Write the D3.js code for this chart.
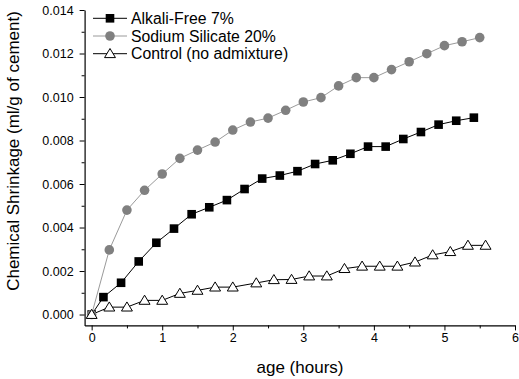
<!DOCTYPE html>
<html>
<head>
<meta charset="utf-8">
<script src="https://cdn.jsdelivr.net/npm/d3@7/dist/d3.min.js"></script>
<style>
  html, body { margin: 0; padding: 0; background: #fff; }
  svg { display: block; font-family: "Liberation Sans", Arial, Helvetica, sans-serif; }
</style>
</head>
<body>
<svg id="chart" width="519" height="379"></svg>
<script>
// Chemical shrinkage (ml/g of cement) against age in hours
const alkaliHours = [0, 0.167, 0.417, 0.667, 0.917, 1.167, 1.417, 1.667, 1.917, 2.167, 2.417, 2.667,
  2.917, 3.167, 3.417, 3.667, 3.917, 4.167, 4.417, 4.667, 4.917, 5.167, 5.417];
const alkaliFree = [0, 0.00080, 0.00146, 0.00244, 0.00330, 0.00395, 0.00461, 0.00493, 0.00526, 0.00577,
  0.00625, 0.00639, 0.00659, 0.00692, 0.00709, 0.00739, 0.00772, 0.00772, 0.00807, 0.00839, 0.00873,
  0.00891, 0.00905];

const silicateHours = [0, 0.25, 0.5, 0.75, 1, 1.25, 1.5, 1.75, 2, 2.25, 2.5, 2.75, 3, 3.25, 3.5, 3.75,
  4, 4.25, 4.5, 4.75, 5, 5.25, 5.5];
const sodiumSilicate = [0, 0.00297, 0.00480, 0.00571, 0.00646, 0.00718, 0.00756, 0.00793, 0.00848,
  0.00885, 0.00903, 0.00939, 0.00977, 0.00997, 0.01051, 0.01089, 0.01089, 0.01126, 0.01162, 0.01199,
  0.01236, 0.01254, 0.01273];

const controlHours = [0, 0.25, 0.5, 0.75, 1, 1.25, 1.5, 1.75, 2, 2.333, 2.583, 2.833, 3.083, 3.333,
  3.583, 3.833, 4.083, 4.333, 4.583, 4.833, 5.083, 5.333, 5.583];
const control = [0, 0.00034, 0.00034, 0.00065, 0.00065, 0.00097, 0.00111, 0.00126, 0.00126, 0.00145,
  0.00160, 0.00161, 0.00177, 0.00177, 0.00211, 0.00222, 0.00222, 0.00222, 0.00241, 0.00274, 0.00289,
  0.00318, 0.00318];

const seriesNames = ["Alkali-Free 7%", "Sodium Silicate 20%", "Control (no admixture)"];
const xTickValues = [0, 1, 2, 3, 4, 5, 6];
const yTickValues = [0, 0.002, 0.004, 0.006, 0.008, 0.010, 0.012, 0.014];
const xTitle = "age (hours)";
const yTitle = "Chemical Shrinkage (ml/g of cement)";

const svg = d3.select("#chart");
const plotLeft = 84.6, plotRight = 515, plotTop = 10, plotBottom = 325.4;

const x = d3.scaleLinear().domain([-0.1, 6]).range([plotLeft, plotRight]);
const y = d3.scaleLinear().domain([-0.0005, 0.014]).range([plotBottom, plotTop]);

const series = [
  { name: seriesNames[0], xs: alkaliHours, ys: alkaliFree, line: "#000", shape: "square" },
  { name: seriesNames[1], xs: silicateHours, ys: sodiumSilicate, line: "#9a9a9a", shape: "circle" },
  { name: seriesNames[2], xs: controlHours, ys: control, line: "#000", shape: "triangle" }
];

function drawMarker(g, shape, cx, cy) {
  if (shape === "square") {
    g.append("rect").attr("x", cx - 4.3).attr("y", cy - 4.3).attr("width", 8.6).attr("height", 8.6)
      .attr("fill", "#000");
  } else if (shape === "circle") {
    g.append("circle").attr("cx", cx).attr("cy", cy).attr("r", 4.8).attr("fill", "#808080");
  } else {
    const s = 5.2;
    g.append("path")
      .attr("d", `M${cx},${cy - s}L${cx + s * 1.05},${cy + s * 0.75}L${cx - s * 1.05},${cy + s * 0.75}Z`)
      .attr("fill", "#fff").attr("stroke", "#000").attr("stroke-width", 1);
  }
}

// axes with major and minor ticks
const axisStyle = sel => {
  sel.selectAll("path").attr("stroke", "#000").attr("stroke-width", 1.2);
  sel.selectAll("line").attr("stroke", "#000").attr("stroke-width", 1);
  sel.selectAll("text").attr("fill", "#000").attr("font-size", 12.5);
};

const xMinor = svg.append("g").attr("transform", `translate(0,${plotBottom})`)
  .call(d3.axisBottom(x).tickValues([0.5, 1.5, 2.5, 3.5, 4.5, 5.5]).tickSize(3).tickFormat(""));
xMinor.select("path").remove();
xMinor.call(axisStyle);

const xAxis = svg.append("g").attr("transform", `translate(0,${plotBottom})`)
  .call(d3.axisBottom(x).tickValues(xTickValues).tickSize(5).tickSizeOuter(0).tickPadding(3)
    .tickFormat(d3.format("d")));
xAxis.call(axisStyle);

const yMinor = svg.append("g").attr("transform", `translate(${plotLeft},0)`)
  .call(d3.axisLeft(y).tickValues([0.001, 0.003, 0.005, 0.007, 0.009, 0.011, 0.013]).tickSize(3).tickFormat(""));
yMinor.select("path").remove();
yMinor.call(axisStyle);

const yAxis = svg.append("g").attr("transform", `translate(${plotLeft},0)`)
  .call(d3.axisLeft(y).tickValues(yTickValues).tickSize(5).tickSizeOuter(0).tickPadding(6)
    .tickFormat(d3.format(".3f")));
yAxis.call(axisStyle);

// axis titles
svg.append("text").attr("x", 300).attr("y", 373).attr("text-anchor", "middle")
  .attr("font-size", 17).attr("fill", "#000").text(xTitle);
svg.append("text").attr("transform", `translate(18.5,151) rotate(-90)`)
  .attr("text-anchor", "middle").attr("font-size", 17).attr("fill", "#000").text(yTitle);

// series lines and markers
const lineGen = d3.line().x(d => x(d[0])).y(d => y(d[1]));
series.forEach(s => {
  const pts = s.xs.map((t, i) => [t, s.ys[i]]);
  svg.append("path").datum(pts).attr("d", lineGen).attr("fill", "none")
    .attr("stroke", s.line).attr("stroke-width", 1);
});
series.forEach(s => {
  const g = svg.append("g");
  s.xs.forEach((t, i) => drawMarker(g, s.shape, x(t), y(s.ys[i])));
});

// legend
const legend = svg.append("g");
series.forEach((s, i) => {
  const ly = 18.3 + i * 17.7;
  legend.append("line").attr("x1", 93).attr("x2", 127).attr("y1", ly).attr("y2", ly)
    .attr("stroke", s.line).attr("stroke-width", 1);
  drawMarker(legend, s.shape, 110, ly);
  legend.append("text").attr("x", 131).attr("y", ly + 5.5).attr("font-size", 15.8)
    .attr("fill", "#000").text(s.name);
});
</script>
</body>
</html>
